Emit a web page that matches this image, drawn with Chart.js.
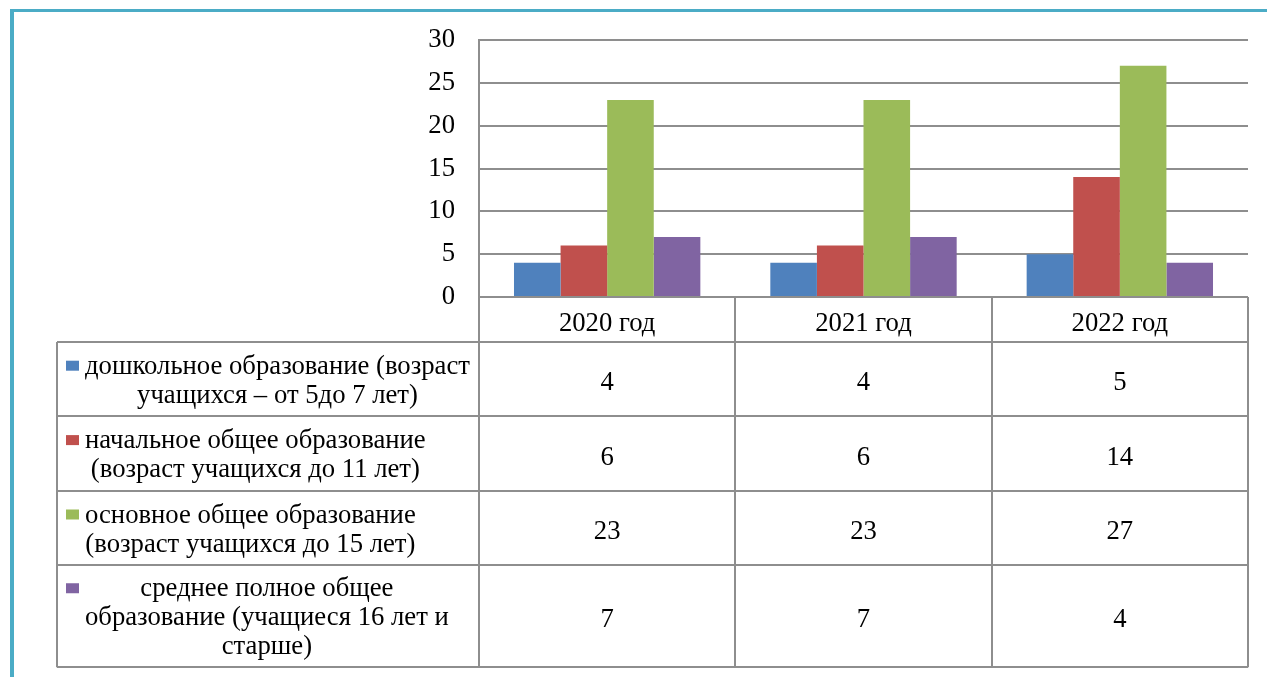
<!DOCTYPE html>
<html>
<head>
<meta charset="utf-8">
<script src="https://cdn.jsdelivr.net/npm/chart.js@4.4.1/dist/chart.umd.min.js"></script>
<style>
  body { margin: 0; background: #fff; }
  #wrap { position: relative; width: 1267px; height: 677px; overflow: hidden; }
  #frame { position: absolute; left: 10px; top: 9px; width: 1300px; height: 700px;
           border-top: 3px solid #4bacc6; border-left: 4px solid #4bacc6; }
  canvas { position: absolute; left: 0; top: 0; }
</style>
</head>
<body>
<div id="wrap">
  <div id="frame"></div>
  <canvas id="chart" width="1267" height="677"></canvas>
</div>
<script>
const categories = ['2020 год', '2021 год', '2022 год'];
const preschool = [4, 4, 5];
const primary = [6, 6, 14];
const basic = [23, 23, 27];
const secondary = [7, 7, 4];
const yMin = 0, yMax = 30, yStep = 5;

const seriesNames = [
  'дошкольное образование (возраст учащихся – от 5до 7 лет)',
  'начальное общее образование (возраст учащихся до 11 лет)',
  'основное общее образование (возраст учащихся до 15 лет)',
  'среднее полное общее образование (учащиеся 16 лет и старше)'
];
// wrapped the same way as in the picture
const seriesLines = [
  ['дошкольное образование (возраст', 'учащихся – от 5до 7 лет)'],
  ['начальное общее образование', '(возраст учащихся до 11 лет)'],
  ['основное общее образование', '(возраст учащихся до 15 лет)'],
  ['среднее полное общее', 'образование (учащиеся 16 лет и', 'старше)']
];
const colors = ['#4f81bd', '#c0504d', '#9bbb59', '#8064a2'];

const FAMILY = "'Liberation Serif', 'Times New Roman', serif";
const FONT = "26.7px " + FAMILY;
const LINE = '#8e8e8e';

const dataTable = {
  id: 'dataTable',
  afterDraw(chart) {
    const ctx = chart.ctx, x = chart.scales.x, area = chart.chartArea;
    const n = categories.length;
    const colW = (x.right - x.left) / n;
    const tableLeft = 57, textLeft = 85, lineH = 29;
    const headerH = 45;
    const rowH = seriesLines.map(l => 19 + l.length * 27.7);

    ctx.save();
    ctx.font = FONT;
    ctx.fillStyle = '#000';
    ctx.textBaseline = 'middle';
    ctx.strokeStyle = LINE;
    ctx.lineWidth = 2;

    // header row with categories
    let top = area.bottom;
    ctx.textAlign = 'center';
    categories.forEach((c, i) => {
      ctx.fillText(c, x.getPixelForValue(i), top + headerH / 2 + 4);
    });
    let y = top + headerH;
    const rowTops = [];
    const series = [preschool, primary, basic, secondary];
    series.forEach((vals, r) => {
      rowTops.push(y);
      const h = rowH[r];
      const lines = seriesLines[r];
      const maxW = Math.max(...lines.map(s => ctx.measureText(s).width));
      const cx = textLeft + maxW / 2;
      const firstY = y + h / 2 - (lines.length - 1) * lineH / 2 + 2;
      lines.forEach((s, k) => ctx.fillText(s, cx, firstY + k * lineH));
      ctx.fillStyle = colors[r];
      ctx.fillRect(66, firstY - 6, 13, 10);
      ctx.fillStyle = '#000';
      vals.forEach((v, i) => {
        ctx.fillText(String(v), x.getPixelForValue(i), y + h / 2 + 4);
      });
      y += h;
    });
    const bottom = y;

    ctx.beginPath();
    // vertical column lines
    for (let i = 0; i <= n; i++) {
      const cxl = Math.round(x.left + i * colW);
      ctx.moveTo(cxl, i === 0 ? area.top : area.bottom);
      ctx.lineTo(cxl, bottom);
    }
    ctx.moveTo(tableLeft, top + headerH);
    ctx.lineTo(tableLeft, bottom);
    // horizontal row lines
    rowTops.concat([bottom]).forEach(ry => {
      ctx.moveTo(tableLeft, Math.round(ry));
      ctx.lineTo(x.right, Math.round(ry));
    });
    ctx.stroke();
    ctx.restore();
  }
};

new Chart(document.getElementById('chart'), {
  type: 'bar',
  data: {
    labels: categories,
    datasets: [preschool, primary, basic, secondary].map((d, i) => ({
      label: seriesNames[i],
      data: d,
      backgroundColor: colors[i],
      borderWidth: 0,
      categoryPercentage: 0.727,
      barPercentage: 1.0
    }))
  },
  options: {
    responsive: false,
    animation: false,
    layout: { padding: { top: 40, right: 19, bottom: 380, left: 0 } },
    plugins: { legend: { display: false }, tooltip: { enabled: false } },
    scales: {
      x: { display: false },
      y: {
        min: yMin, max: yMax,
        afterFit(scale) { scale.width = 479; },
        ticks: { stepSize: yStep, padding: 24, color: '#000',
                 font: { family: FAMILY, size: 26.7 } },
        grid: { color: LINE, lineWidth: 2, drawTicks: false },
        border: { display: true, color: LINE, width: 2 }
      }
    }
  },
  plugins: [dataTable]
});
</script>
</body>
</html>
